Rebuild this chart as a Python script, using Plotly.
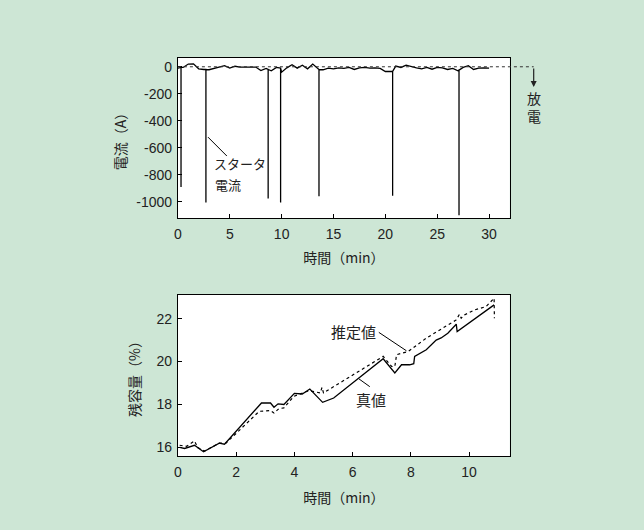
import numpy as np
import plotly.graph_objects as go

# ---- Upper panel: battery current (A) vs time (min) ----
cur_times = np.arange(0.0, 30.01, 0.5)
cur_base = [-10, -5, 20, 22, -15, -20, -22, -12, -5, 8,
            -10, 4, -2, 0, -3, -2, -28, -12, -30, -5,
            -40, -8, 15, -10, 12, -15, 20, -20, -22, -10,
            -15, -8, -12, -5, -20, -8, -5, -10, -8, -12,
            -35, -35, 5, -5, 12, 0, -8, -15, -5, -18,
            -5, -8, -20, -12, -30, -5, 8, -20, -10, -8, -10]
spike_times = [0.3, 2.7, 8.7, 9.9, 13.6, 20.7, 27.1]
spike_base = [-5, -20, -20, -10, -20, -35, -25]
spike_depth = [-890, -1005, -975, -1005, -958, -955, -1100]

cur_x_ticks = [0, 5, 10, 15, 20, 25, 30]
cur_y_ticks = [0, -200, -400, -600, -800, -1000]
cur_y_text = ["0", "-200", "-400", "-600", "-800", "-1000"]

# ---- Lower panel: state of charge (%) vs time (min) ----
true_t = [0.06, 0.23, 0.57, 0.88, 1.42, 1.6, 2.87, 3.18, 3.3, 3.44, 3.64,
          4.0, 4.27, 4.53, 4.97, 5.35, 7.05, 7.45, 7.68, 7.96, 8.1, 8.13,
          8.53, 8.87, 9.04, 9.27, 9.56, 9.59, 10.86]
true_v = [16.0, 15.95, 16.1, 15.8, 16.2, 16.15, 18.07, 18.07, 17.87, 18.03, 18.0,
          18.52, 18.49, 18.72, 18.1, 18.3, 20.13, 19.47, 19.85, 19.85, 19.9, 20.24,
          20.55, 21.0, 21.1, 21.32, 21.74, 21.4, 22.64]
est_t = [0.06, 0.3, 0.57, 0.68, 0.91, 1.42, 1.65, 2.79, 3.18, 3.3, 3.47, 3.64,
         3.98, 4.5, 4.89, 4.95, 5.0, 7.05, 7.34, 7.45, 7.51, 7.91, 8.53, 8.82,
         9.56, 9.67, 9.73, 9.84, 10.18, 10.58, 10.86, 10.87]
est_v = [16.1, 16.05, 16.3, 15.99, 15.83, 16.2, 16.2, 17.68, 17.72, 17.6, 17.81, 17.84,
         18.38, 18.64, 18.54, 18.8, 18.54, 20.24, 19.77, 19.77, 20.32, 20.47, 21.09, 21.32,
         21.94, 22.2, 22.02, 22.17, 22.4, 22.56, 22.95, 22.02]

soc_x_ticks = [0, 2, 4, 6, 8, 10]
soc_y_ticks = [16, 18, 20, 22]

BG = "#cde6d5"
INK = "#222222"
FONT = "Liberation Sans, Arial, Noto Sans CJK JP, sans-serif"
JP = "Noto Sans CJK JP, sans-serif"

# merge the baseline samples with the vertical starter-current spikes
pts = [(t, v, 0) for t, v in zip(cur_times, cur_base)]
for t, b, d in zip(spike_times, spike_base, spike_depth):
    pts.append((t, b, 1))
    pts.append((t, d, 2))
    pts.append((t, b, 3))
pts.sort(key=lambda p: (p[0], p[2]))
cx = [p[0] for p in pts]
cy = [p[1] for p in pts]

fig = go.Figure()
fig.add_trace(go.Scatter(x=cx, y=cy, mode="lines", line=dict(color="black", width=1.3),
                         xaxis="x", yaxis="y", showlegend=False, hoverinfo="skip"))
fig.add_trace(go.Scatter(x=est_t, y=est_v, mode="lines", name="推定値",
                         line=dict(color="black", width=1.2, dash="dot"),
                         xaxis="x2", yaxis="y2", showlegend=False))
fig.add_trace(go.Scatter(x=true_t, y=true_v, mode="lines", name="真値",
                         line=dict(color="black", width=1.3),
                         xaxis="x2", yaxis="y2", showlegend=False))

xdom = [175 / 644, 509 / 644]
axis_common = dict(showline=True, mirror=True, linecolor="black", linewidth=1,
                   ticks="inside", ticklen=4, tickcolor="black", showgrid=False,
                   zeroline=False, tickfont=dict(family=FONT, size=14, color=INK))
title_font = dict(family=JP, size=14, color=INK)

fig.update_layout(
    width=644, height=530,
    margin=dict(l=0, r=0, t=0, b=0),
    paper_bgcolor=BG, plot_bgcolor="white",
    xaxis=dict(domain=xdom, anchor="y", range=[0, 32], tickvals=cur_x_ticks,
               ticklabelstandoff=3,
               title=dict(text="時間（min）", font=title_font, standoff=12), **axis_common),
    yaxis=dict(domain=[1 - 218 / 530, 1 - 58 / 530], anchor="x", range=[-1120, 65],
               tickvals=cur_y_ticks, ticktext=cur_y_text, ticklabelstandoff=2,
               title=dict(text="電流（A）", font=title_font, standoff=6), **axis_common),
    xaxis2=dict(domain=xdom, anchor="y2", range=[0, 11.4], tickvals=soc_x_ticks,
                ticklabelstandoff=3,
                title=dict(text="時間（min）", font=title_font, standoff=14), **axis_common),
    yaxis2=dict(domain=[1 - 456 / 530, 1 - 295 / 530], anchor="x2", range=[15.6, 23.1],
                tickvals=soc_y_ticks, ticklabelstandoff=2,
                title=dict(text="残容量（%）", font=title_font, standoff=12), **axis_common),
)

# zero-current reference line, continued past the frame toward the discharge arrow
fig.add_shape(type="line", xref="paper", yref="y", x0=xdom[0], x1=533 / 644, y0=0, y1=0,
              line=dict(color="#333333", width=1, dash="3px,3px"))
fig.add_annotation(xref="paper", yref="y", x=533 / 644, y=-150, ax=0, ay=-20,
                   text="", showarrow=True, arrowhead=2, arrowsize=1, arrowwidth=1.2,
                   arrowcolor="#222222")
fig.add_annotation(xref="paper", yref="y", x=533 / 644, y=-300, text="放<br>電",
                   xanchor="center", yanchor="middle", showarrow=False,
                   font=dict(family=JP, size=14, color=INK))

# starter-current callout
fig.add_shape(type="line", xref="x", yref="y", x0=2.9, y0=-521, x1=4.72, y1=-661,
              line=dict(color="black", width=1))
fig.add_annotation(xref="x", yref="y", x=3.25, y=-720, xanchor="left", yanchor="middle",
                   text="スタータ", showarrow=False,
                   font=dict(family=JP, size=13, color=INK))
fig.add_annotation(xref="x", yref="y", x=3.35, y=-870, xanchor="left", yanchor="middle",
                   text="電流", showarrow=False,
                   font=dict(family=JP, size=13, color=INK))

# lower panel callouts
fig.add_shape(type="line", xref="x2", yref="y2", x0=6.9, y0=21.36, x1=7.85, y1=20.5,
              line=dict(color="black", width=1))
fig.add_annotation(xref="x2", yref="y2", x=6.04, y=21.38, text="推定値", showarrow=False,
                   font=dict(family=JP, size=15, color=INK))
fig.add_shape(type="line", xref="x2", yref="y2", x0=6.59, y0=18.83, x1=6.21, y1=19.2,
              line=dict(color="black", width=1))
fig.add_annotation(xref="x2", yref="y2", x=6.62, y=18.23, text="真値", showarrow=False,
                   font=dict(family=JP, size=15, color=INK))

fig.write_html("out.html")
